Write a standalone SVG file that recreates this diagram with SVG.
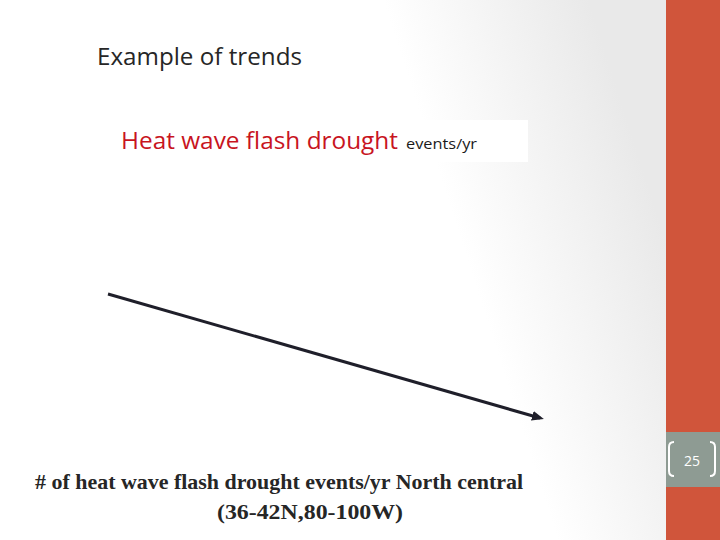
<svg xmlns="http://www.w3.org/2000/svg" width="720" height="540" viewBox="0 0 720 540">
<defs>
<linearGradient id="bg" gradientUnits="userSpaceOnUse" x1="480" y1="300" x2="666" y2="240">
<stop offset="0" stop-color="#ffffff"/>
<stop offset="1" stop-color="#e9e9e9"/>
</linearGradient>
<marker id="ah" markerWidth="12" markerHeight="12" refX="8" refY="6" orient="auto" markerUnits="userSpaceOnUse" viewBox="0 0 12 12">
<path d="M0,1 L12,6 L0,11 Z" fill="#1f1f2a"/>
</marker>
<style>
.title{font-family:"Open Sans","Liberation Sans",sans-serif;font-size:23px;fill:#262626}
.red{font-family:"Open Sans","Liberation Sans",sans-serif;font-size:23px;fill:#c8141e}
.small{font-family:"Open Sans","Liberation Sans",sans-serif;font-size:14px;fill:#1a1a1a}
.cap{font-family:"Liberation Serif",serif;font-size:21px;font-weight:bold;fill:#262626}
.pg{font-family:"Open Sans","Liberation Sans",sans-serif;font-size:14px;fill:#ffffff}
</style>
</defs>
<rect x="0" y="0" width="720" height="540" fill="url(#bg)"/>
<rect x="666" y="0" width="54" height="540" fill="#d0553b"/>
<g id="pagenum">
<rect x="666" y="432" width="54" height="55" fill="#8e9b93"/>
<path d="M674,442 Q669,442 669,447 L669,471 Q669,476 674,476" fill="none" stroke="#fff" stroke-width="2"/>
<path d="M710,442 Q715,442 715,447 L715,471 Q715,476 710,476" fill="none" stroke="#fff" stroke-width="2"/>
<text class="pg" x="692" y="466" text-anchor="middle">25</text>
</g>
<g id="title"><text class="title" x="97" y="65" textLength="205" lengthAdjust="spacingAndGlyphs">Example of trends</text></g>
<g id="label">
<rect x="112" y="120" width="416" height="42" fill="#ffffff"/>
<text class="red" x="121" y="149" textLength="277" lengthAdjust="spacingAndGlyphs">Heat wave flash drought</text>
<text class="small" x="406" y="149" textLength="71" lengthAdjust="spacingAndGlyphs">events/yr</text>
</g>
<g id="connectors">
<line x1="108" y1="294" x2="540" y2="418" stroke="#1f1f2a" stroke-width="3" marker-end="url(#ah)"/>
</g>
<g id="caption">
<text class="cap" x="35" y="489" textLength="488" lengthAdjust="spacingAndGlyphs"># of heat wave flash drought events/yr North central</text>
<text class="cap" x="217" y="519" textLength="186" lengthAdjust="spacingAndGlyphs">(36-42N,80-100W)</text>
</g>
</svg>
